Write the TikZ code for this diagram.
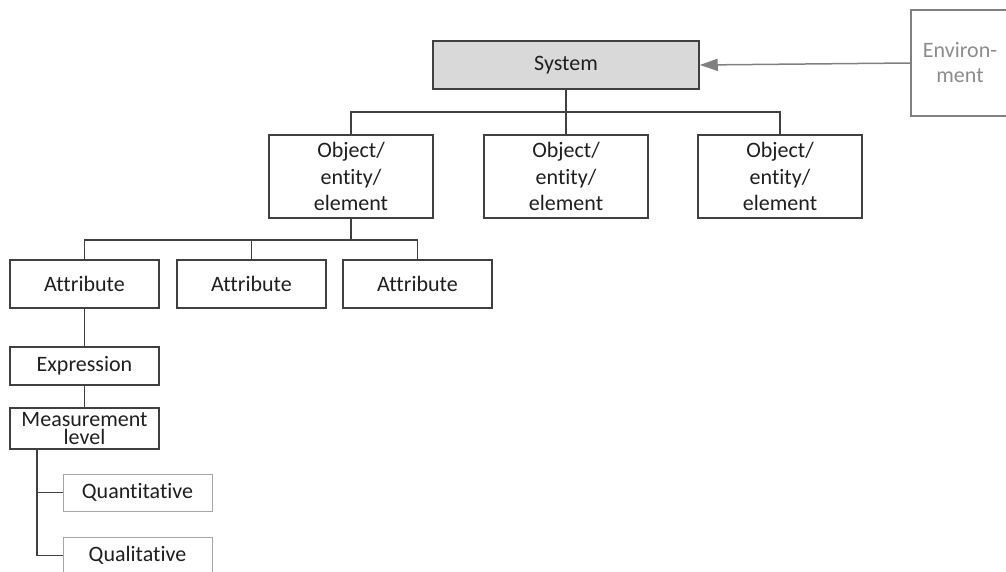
\documentclass[tikz,border=0pt]{standalone}
\usepackage{fontspec}
\setmainfont{Carlito}[Ligatures={NoCommon}]
\usetikzlibrary{arrows.meta}
\definecolor{boxline}{HTML}{404040}
\definecolor{txt}{HTML}{1F1F1F}
\definecolor{sysfill}{HTML}{D9D9D9}
\definecolor{envgray}{HTML}{808080}
\definecolor{envtext}{HTML}{8C8C8C}
\definecolor{leafline}{HTML}{A6A6A6}
\begin{document}
\begin{tikzpicture}[x=1pt,y=-1pt,
  every node/.style={font=\fontsize{22}{26.5}\selectfont, text=txt, inner sep=0pt},
  box/.style={draw=boxline, line width=1.5pt, rectangle, align=center},
  leaf/.style={draw=leafline, line width=1pt, rectangle, align=center},
  envbox/.style={draw=envgray, line width=2.2pt, rectangle, align=center, text=envtext, font=\fontsize{22}{25}\selectfont},
  link/.style={draw=boxline, line width=1.5pt},
  envarrow/.style={draw=envgray, line width=1.5pt, -{Triangle[length=18pt,width=12pt]}}]
\useasboundingbox (0,0) rectangle (1006,571);

% top level
\node[box, fill=sysfill, minimum width=266pt, minimum height=48pt] (sys) at (566,65) {System};
\node[envbox, minimum width=98pt, minimum height=106pt] (env) at (960,63) {Environ-\\ment};

% objects
\node[box, minimum width=164pt, minimum height=83pt] (obj1) at (351,176.5) {Object/\\entity/\\element};
\node[box, minimum width=164pt, minimum height=83pt] (obj2) at (566,176.5) {Object/\\entity/\\element};
\node[box, minimum width=164pt, minimum height=83pt] (obj3) at (780,176.5) {Object/\\entity/\\element};

% attributes
\node[box, minimum width=149pt, minimum height=48pt] (attr1) at (84.5,284) {Attribute};
\node[box, minimum width=149pt, minimum height=48pt] (attr2) at (251.5,284) {Attribute};
\node[box, minimum width=149pt, minimum height=48pt] (attr3) at (417.5,284) {Attribute};

% attribute chain
\node[box, minimum width=149pt, minimum height=38pt] (expr) at (84.5,366) {Expression};
\node[box, minimum width=149pt, minimum height=41pt, font=\fontsize{22}{18}\selectfont] (meas) at (84.5,428.5) {Measurement\\level};
\node[leaf, minimum width=149pt, minimum height=37pt] (quant) at (137.5,492.5) {Quantitative};
\node[leaf, minimum width=149pt, minimum height=37pt] (qual) at (137.5,555.5) {Qualitative};

% junction points
\coordinate (bar1) at (566,112);
\coordinate (bar2) at (351,240);
\coordinate (mstem) at (37,449);

% connectors
\draw[envarrow] (env.west) -- (sys.east);
\draw[link] (sys.south) -- (bar1);
\draw[link] (obj1.north) |- (bar1) -| (obj3.north);
\draw[link] (bar1) -- (obj2.north);
\draw[link] (obj1.south) -- (bar2);
\draw[link] (attr1.north) |- (bar2) -| (attr3.north);
\draw[link] (attr2.north) |- (bar2);
\draw[link] (attr1.south) -- (expr.north);
\draw[link] (expr.south) -- (meas.north);
\draw[link] (mstem) |- (quant.west);
\draw[link] (mstem) |- (qual.west);
\end{tikzpicture}
\end{document}
